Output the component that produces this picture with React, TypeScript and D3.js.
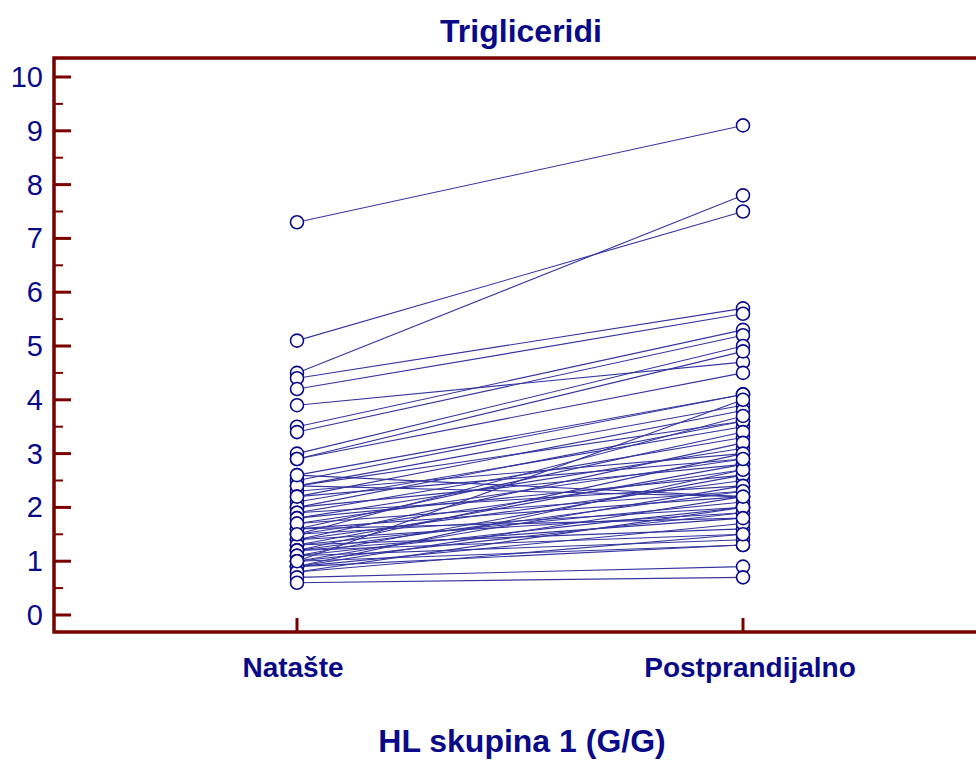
import React from 'react';
import * as d3 from 'd3';

const groups = ['Natašte', 'Postprandijalno'];
// paired triglyceride values (mmol/L) per subject
const fasting = [
  7.3, 5.1, 4.5, 4.4, 4.2, 3.9, 3.5, 3.4, 3.0, 2.9, 2.9, 2.6, 2.5, 2.4, 2.4, 2.3,
  2.4, 2.2, 2.1, 2.0, 2.0, 1.9, 1.9, 1.8, 1.8, 1.7, 1.6, 1.6, 1.5, 1.5, 1.4, 1.4,
  1.4, 1.3, 1.3, 1.3, 1.2, 1.2, 1.2, 1.2, 1.1, 1.1, 1.1, 1.0, 1.0, 1.0, 0.9, 0.9,
  0.9, 0.9, 0.8, 0.8, 0.7, 0.6, 1.6, 1.7, 2.2, 2.6, 1.5, 1.0
];
const postprandial = [
  9.1, 7.5, 7.8, 5.7, 5.6, 4.7, 5.3, 5.2, 5.0, 4.9, 4.5, 4.1, 4.1, 3.9, 3.6, 3.0,
  2.2, 3.8, 3.5, 3.6, 2.8, 3.3, 2.4, 3.1, 2.6, 2.9, 3.4, 2.2, 2.7, 2.0, 3.2, 2.5,
  1.9, 2.8, 2.1, 1.6, 3.0, 2.3, 1.8, 1.5, 2.6, 2.0, 1.4, 2.4, 1.9, 1.3, 2.7, 2.2,
  1.7, 1.3, 2.0, 1.5, 0.9, 0.7, 1.8, 2.3, 2.9, 2.2, 3.7, 4.0
];
const yTicks = [0, 1, 2, 3, 4, 5, 6, 7, 8, 9, 10];
const yMinorTicks = [0.5, 1.5, 2.5, 3.5, 4.5, 5.5, 6.5, 7.5, 8.5, 9.5];

const W = 976;
const H = 761;
const left = 54;
const top = 58;
const bottom = 632;
const axisColor = '#7a0000';
const textColor = '#0a0a88';
const lineColor = '#3535a0';
const font = 'Arial, "Liberation Sans", sans-serif';

export default function App() {
  const y = d3.scaleLinear().domain([0, 10]).range([615, 77]);
  const x = d3.scalePoint<string>().domain(groups).range([297, 743]);
  const line = d3.line<[string, number]>().x(d => x(d[0])!).y(d => y(d[1]));
  const pairs = fasting.map((v, i) => [[groups[0], v], [groups[1], postprandial[i]]] as [string, number][]);

  return (
    <svg width={W} height={H} style={{ position: 'absolute', left: 0, top: 0, background: '#fff' }} fontFamily={font}>
      <text x={521} y={42} textAnchor="middle" fontSize={32} fontWeight="bold" fill={textColor}>Trigliceridi</text>

      {/* frame */}
      <path d={`M${W},${top}H${left}V${bottom}H${W}`} fill="none" stroke={axisColor} strokeWidth={3.5} />

      {/* y axis */}
      {yTicks.map(t => (
        <g key={t}>
          <line x1={left} x2={left + 17} y1={y(t)} y2={y(t)} stroke={axisColor} strokeWidth={3} />
          <text x={43} y={y(t) + 10} textAnchor="end" fontSize={29} fill={textColor}>{t}</text>
        </g>
      ))}
      {yMinorTicks.map(t => (
        <line key={t} x1={left} x2={left + 9} y1={y(t)} y2={y(t)} stroke={axisColor} strokeWidth={2} />
      ))}

      {/* x axis */}
      {groups.map(g => (
        <g key={g}>
          <line x1={x(g)} x2={x(g)} y1={bottom} y2={bottom - 14} stroke={axisColor} strokeWidth={3} />
          <text x={x(g)! + (g === groups[0] ? -4 : 7)} y={677} textAnchor="middle" fontSize={28} fontWeight="bold" fill={textColor}>{g}</text>
        </g>
      ))}
      <text x={522} y={752} textAnchor="middle" fontSize={32} fontWeight="bold" fill={textColor}>HL skupina 1 (G/G)</text>

      {/* paired lines */}
      {pairs.map((p, i) => (
        <path key={i} d={line(p)!} fill="none" stroke={lineColor} strokeWidth={1.1} />
      ))}
      {pairs.map((p, i) => (
        <g key={'c' + i}>
          {p.map(d => (
            <circle key={d[0]} cx={x(d[0])} cy={y(d[1])} r={6.5} fill="#fff" stroke={textColor} strokeWidth={1.6} />
          ))}
        </g>
      ))}
    </svg>
  );
}
